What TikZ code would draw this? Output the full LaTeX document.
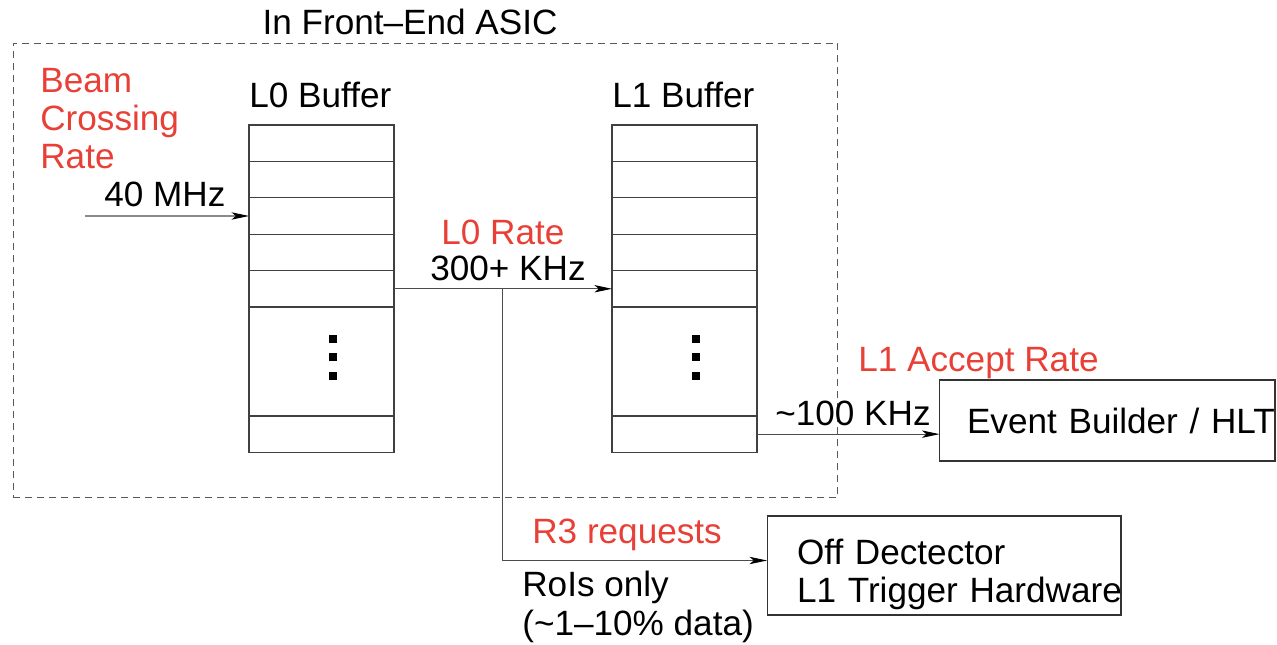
\documentclass[tikz,border=0pt]{standalone}
\usepackage{fontspec}
\setmainfont{Liberation Sans}
\usetikzlibrary{arrows.meta,positioning}
\definecolor{ratered}{RGB}{232,64,55}

\begin{document}
\begin{tikzpicture}[
  x=0.02cm, y=-0.02cm,
  font=\fontsize{20}{21.8}\selectfont,
  cell/.style={draw=black!75,line width=0.7pt,minimum width=2.9cm,minimum height=0.728cm,inner sep=0pt,outer sep=0pt},
  gapcell/.style={cell,minimum height=2.18cm},
  lbl/.style={anchor=base west,inner sep=0pt,align=left},
  rate/.style={lbl,text=ratered},
  sink/.style={draw=black!80,line width=0.6pt,align=left,inner ysep=0pt,outer sep=0pt},
  arr/.style={-{Stealth[length=10pt,width=4.2pt,inset=2.5pt,color=black]},draw=black!70,line width=0.6pt}
]
\useasboundingbox (0,0) rectangle (1277,645);

% front-end frame
\node[draw=black!65,dash pattern=on 0.14cm off 0.1cm,line width=0.5pt,minimum width=16.5cm,minimum height=9.08cm,inner sep=0pt] (asic) at (425.5,270) {};
\node[lbl,anchor=base] (asictitle) at (410,35) {In Front–End ASIC};

% L0 buffer
\node[cell] (l0a) at (321.5,143.2) {};
\node[cell,below=0pt of l0a] (l0b) {};
\node[cell,below=0pt of l0b] (l0c) {};
\node[cell,below=0pt of l0c] (l0d) {};
\node[cell,below=0pt of l0d] (l0e) {};
\node[gapcell,below=0pt of l0e] (l0gap) {};
\node[cell,below=0pt of l0gap] (l0z) {};
\node[lbl] (l0title) at ([yshift=0.36cm]l0a.north west) {L0 Buffer};
\fill ([shift={(7.5,-26.5)}]l0gap.center) rectangle +(8,8);
\fill ([shift={(7.5,-8.5)}]l0gap.center) rectangle +(8,8);
\fill ([shift={(7.5,10.5)}]l0gap.center) rectangle +(8,8);

% L1 buffer
\node[cell,right=4.36cm of l0a] (l1a) {};
\node[cell,below=0pt of l1a] (l1b) {};
\node[cell,below=0pt of l1b] (l1c) {};
\node[cell,below=0pt of l1c] (l1d) {};
\node[cell,below=0pt of l1d] (l1e) {};
\node[gapcell,below=0pt of l1e] (l1gap) {};
\node[cell,below=0pt of l1gap] (l1z) {};
\node[lbl] (l1title) at ([yshift=0.36cm]l1a.north west) {L1 Buffer};
\fill ([shift={(7.5,-26.5)}]l1gap.center) rectangle +(8,8);
\fill ([shift={(7.5,-8.5)}]l1gap.center) rectangle +(8,8);
\fill ([shift={(7.5,10.5)}]l1gap.center) rectangle +(8,8);

% outside
\node[sink,text width=5.61cm,minimum height=1.62cm,inner xsep=0.55cm] (evb) at (1107.25,420.5) {\mbox{Event Builder / HLT}};
\node[sink,text width=5.88cm,minimum height=1.98cm,inner xsep=0.6cm] (offdet) at (944,565.5) {\rule{0pt}{0.86cm}Off Dectector\\\mbox{L1 Trigger Hardware}};

% rates
\node[rate] (beam) at (40,169) {Beam\\Crossing\\Rate};
\node[lbl] (mhz) at (104,207) {40 MHz};
\node[rate] (l0rate) at (441,244) {L0 Rate};
\node[lbl] (l0khz) at (430,280.7) {300+ KHz};
\node[rate] (l1acc) at (858,371) {L1 Accept Rate};
\node[lbl] (l1khz) at (775,425) {\textasciitilde100 KHz};
\node[rate] (r3) at (532,543) {R3 requests};
\node[lbl] (rois) at (522,635) {RoIs only\\(\textasciitilde1–10\% data)};

% flow
\coordinate (beamin) at (85,216);
\draw[arr] (beamin) -- (l0c.west);
\draw[arr] (l0e) -- (l1e);
\path (l0e.east) -- (l1e.west) coordinate[pos=0.5] (fork);
\draw[arr] (fork) |- ([yshift=0.1cm]offdet.west);
\draw[arr] (l1z.east) -- (l1z.east -| evb.west);
\end{tikzpicture}
\end{document}
